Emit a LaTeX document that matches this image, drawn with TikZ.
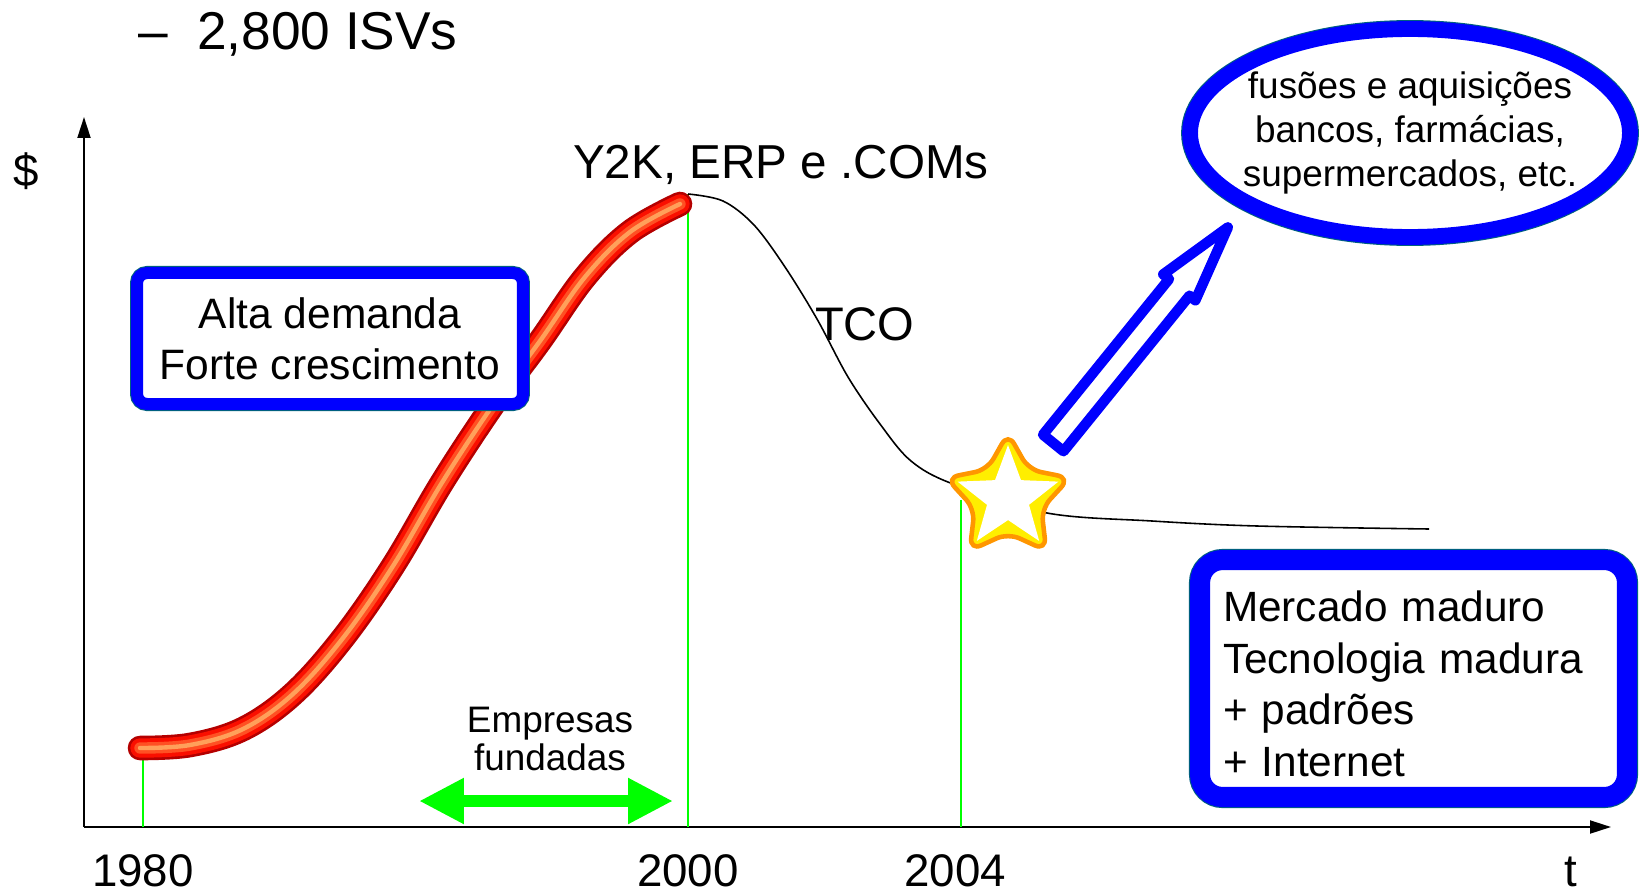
\documentclass[tikz,border=0pt]{standalone}
\usepackage{fontspec}
\setmainfont{Liberation Sans}
\usetikzlibrary{arrows.meta}
\usetikzlibrary{positioning}
\usetikzlibrary{shapes.geometric}
\usetikzlibrary{shapes.arrows}

\definecolor{azul}{RGB}{0,0,255}
\definecolor{bordaAzul}{RGB}{0,96,128}
\definecolor{verde}{RGB}{0,255,0}
\definecolor{escuro}{RGB}{180,0,0}
\definecolor{vermelho}{RGB}{250,15,0}
\definecolor{laranja}{RGB}{255,80,35}
\definecolor{claro}{RGB}{255,160,90}
\definecolor{dourado}{RGB}{255,150,0}
\definecolor{amarelo}{RGB}{255,238,0}

\tikzset{
  eixo/.style={line width=1.1pt, -{Triangle[length=0.42cm,width=0.26cm]}},
  marca/.style={verde, line width=0.8pt},
  rotulo/.style={font=\fontsize{26}{30}\selectfont, anchor=base, inner sep=0},
  curva/.style={escuro, line width=14pt, line cap=round,
    postaction={draw=vermelho, line width=11pt, line cap=round},
    postaction={draw=laranja, line width=6.5pt, line cap=round},
    postaction={draw=claro, line width=2.5pt, line cap=round}},
  caixaAlta/.style={draw=azul, fill=white, line width=6.8pt, rounded corners=0.2cm,
    preaction={draw=bordaAzul, line width=8pt},
    minimum width=7.72cm, minimum height=2.62cm, inner sep=0, align=center,
    font=\fontsize{24.2}{29}\selectfont},
  caixaMaduro/.style={draw=azul, fill=white, line width=11.4pt, rounded corners=0.45cm,
    preaction={draw=bordaAzul, line width=12.6pt},
    minimum width=8.54cm, minimum height=4.74cm, inner sep=0, text width=7.62cm, align=left,
    font=\fontsize{24.1}{29.3}\selectfont},
  elipse/.style={ellipse, draw=azul, fill=white, line width=9pt,
    preaction={draw=bordaAzul, line width=10.2pt},
    minimum width=8.8cm, minimum height=4.16cm, inner xsep=-0.3cm, inner ysep=0, align=center,
    font=\fontsize{21}{25}\selectfont},
  setaAzul/.style={single arrow, draw=azul, fill=white, line width=5.9pt, line join=round,
    minimum height=5.55cm, inner sep=0.16cm, single arrow head extend=0.15cm,
    single arrow tip angle=30},
  estrelaFora/.style={star, star points=5, star point ratio=1.85, minimum size=2.6cm,
    inner sep=0, rounded corners=0.25cm, fill=amarelo, draw=dourado, line width=2.6pt},
  estrelaDentro/.style={star, star points=5, star point ratio=2.4, minimum size=2.12cm,
    inner sep=0, fill=white},
  dupla/.style={verde, line width=6.8pt,
    {Triangle[length=0.9cm,width=0.86cm]}-{Triangle[length=0.9cm,width=0.86cm]}}
}

\begin{document}
\begin{tikzpicture}[x=0.02cm, y=-0.02cm]
  \useasboundingbox (0,0) rectangle (1642,892);

  % eixos
  \coordinate (origem) at (84,827);
  \coordinate (topo) at (84,117);
  \coordinate (direita) at (1611,827);
  \draw[eixo] (origem) -- (topo);
  \draw[eixo] (origem) -- (direita);
  \node[rotulo] (cifrao) at (26,186) {\$};
  \node[rotulo] (tempo) at (1571,886) {t};
  \node[rotulo] (ano1980) at (143,886) {1980};
  \node[rotulo] (ano2000) at (688,886) {2000};
  \node[rotulo] (ano2004) at (955,886) {2004};

  \node[anchor=base west, font=\fontsize{30.3}{36}\selectfont] (isv) at (132,50) {–\hspace{0.55em}2,800 ISVs};

  % marcas verdes
  \coordinate (m1980) at (143,759);
  \coordinate (pico) at (688,194);
  \coordinate (m2004) at (961,500);
  \draw[marca] (m1980) -- (m1980 |- origem);
  \draw[marca] (pico) -- (pico |- origem);
  \draw[marca] (m2004) -- (m2004 |- origem);

  % curvas
  \draw[curva] plot[smooth, tension=0.6] coordinates {(140,748) (190,745) (243,729) (293,694)
    (343,638) (393,566) (443,481) (495,402) (540,341) (585,277) (630,232) (680,204)};
  \draw[line width=0.9pt] plot[smooth, tension=0.55] coordinates {(688,194) (723,201) (754,225)
    (785,267) (817,319) (848,377) (880,424) (911,461) (953,484) (1047,513) (1152,521)
    (1257,526) (1429,529)};

  \node[anchor=base west, font=\fontsize{27.1}{32}\selectfont] (picoTexto) at (567,178) {Y2K, ERP e .COMs};
  \node[anchor=base west, font=\fontsize{26.8}{32}\selectfont] (tco) at (809,340) {TCO};

  % estrela e seta
  \node[estrelaFora] (estrela) at (1008,498) {};
  \node[estrelaDentro] (brilho) at (estrela.center) {};
  \node[setaAzul, rotate=51, anchor=tail] (tendencia) at (1050,447) {};

  % caixas
  \node[elipse] (consolidacao) at (1410,133) {fusões e aquisições\\bancos, farmácias,\\supermercados, etc.};
  \node[caixaAlta] (demanda) at (330,338.5) {Alta demanda\\Forte crescimento};
  \node[caixaMaduro] (maduro) at (1413.5,678.5) {\rule{0pt}{0.83cm}Mercado maduro\\Tecnologia madura\\+ padrões\\+ Internet};

  % empresas fundadas
  \coordinate (fundA) at (419,801);
  \coordinate (fundB) at (673,801);
  \draw[dupla] (fundA) -- (fundB);
  \node[align=center, font=\fontsize{21}{21.6}\selectfont] (empresas) at (550,739) {Empresas\\fundadas};
\end{tikzpicture}
\end{document}
